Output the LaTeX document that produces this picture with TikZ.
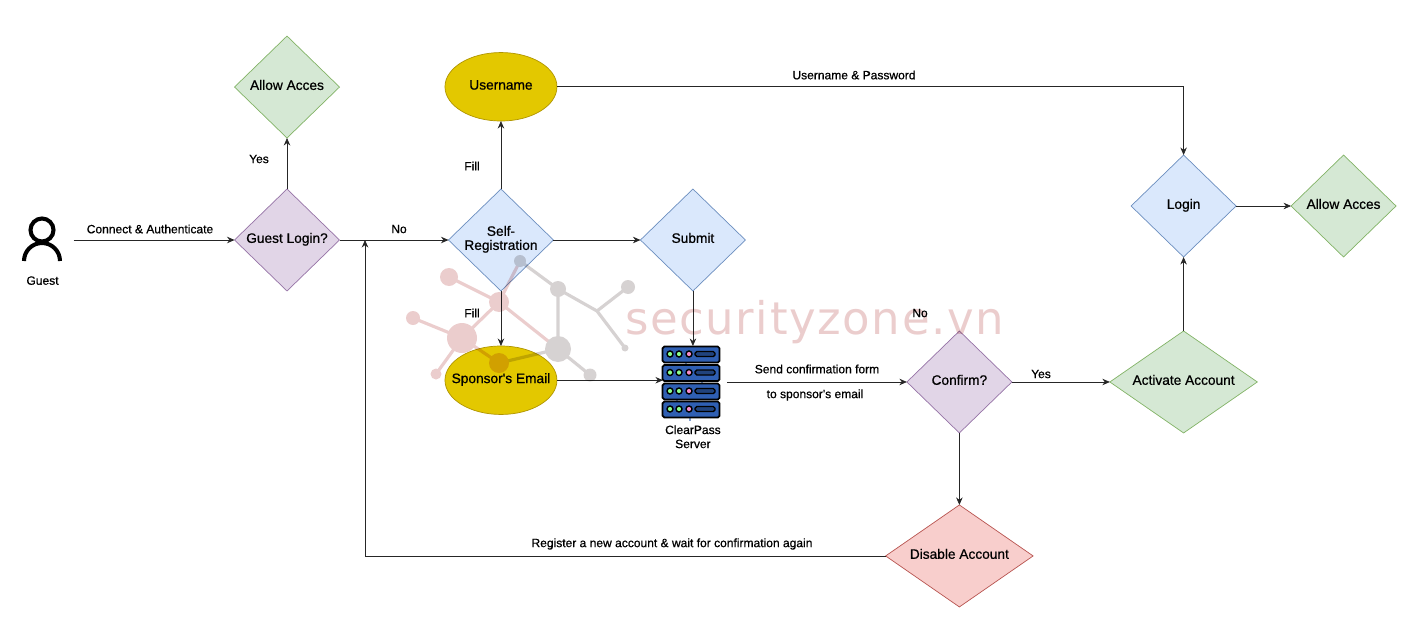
\documentclass[tikz,border=0pt]{standalone}
\usepackage{fontspec}
\setmainfont{Liberation Sans}
\newfontfamily\markfont[LetterSpace=3.6]{DejaVu Sans}
\newfontfamily\boldishfont[FakeBold=0.7]{Liberation Sans}
\usetikzlibrary{arrows.meta,positioning,shapes.geometric}

\definecolor{purplefill}{HTML}{E1D5E7}
\definecolor{purpleline}{HTML}{9673A6}
\definecolor{greenfill}{HTML}{D5E8D4}
\definecolor{greenline}{HTML}{82B366}
\definecolor{bluefill}{HTML}{DAE8FC}
\definecolor{blueline}{HTML}{6C8EBF}
\definecolor{redfill}{HTML}{F8CECC}
\definecolor{redline}{HTML}{B85450}
\definecolor{yellowfill}{HTML}{E3C800}
\definecolor{yellowline}{HTML}{B09500}
\definecolor{markpink}{HTML}{EBCDCD}
\definecolor{markgray}{HTML}{D6D2D2}
\definecolor{rackblue}{HTML}{2F5FB3}

\begin{document}
\begin{tikzpicture}[
  x=0.02cm, y=-0.02cm,
  decision/.style={draw, diamond, align=center, inner sep=0pt, outer sep=0pt, minimum width=2.1cm, minimum height=2.04cm, font=\boldishfont\fontsize{7.8}{8}\selectfont, line width=0.4pt, execute at begin node=\strut},
  wide/.style={minimum width=2.95cm, aspect=1.45},
  oval/.style={draw=yellowline, fill=yellowfill, ellipse, inner ysep=0pt, inner xsep=-0.6cm, outer sep=0pt, minimum width=2.24cm, minimum height=1.37cm, font=\boldishfont\fontsize{7.8}{8}\selectfont, execute at begin node=\strut},
  purpleset/.style={fill=purplefill, draw=purpleline},
  greenset/.style={fill=greenfill, draw=greenline},
  blueset/.style={fill=bluefill, draw=blueline},
  redset/.style={fill=redfill, draw=redline},
  tag/.style={align=center, inner sep=0pt, font=\boldishfont\fontsize{6.85}{8}\selectfont},
  arrow/.style={-{Stealth[length=1.5mm, width=1.3mm]}, line width=0.4pt, draw=black!85}
]
\useasboundingbox (0,0) rectangle (1408,635);

\node[decision, purpleset] (guestlogin) at (287,240) {Guest Login?};
\node[decision, greenset, above=1.02cm of guestlogin] (allowfirst) {Allow Acces};
\node[decision, blueset, right=2.18cm of guestlogin] (selfreg) {Self-\\Registration};
\node[oval, above=1.36cm of selfreg] (username) {Username};
\node[oval, below=1.1cm of selfreg] (sponsor) {Sponsor's Email};
\node[decision, blueset, right=1.74cm of selfreg] (submit) {Submit};
\node[minimum width=1.2cm, minimum height=1.44cm, inner sep=0pt, outer sep=0pt, below=1.1cm of submit] (server) {};
\node[tag, below=0.14cm of server] (serverlabel) {ClearPass\\Server};
\node[decision, purpleset, right=3.68cm of server] (confirm) {Confirm?};
\node[decision, greenset, wide, right=1.96cm of confirm] (activate) {Activate Account};
\node[decision, blueset, above=1.48cm of activate] (login) {Login};
\node[decision, greenset, right=1.1cm of login] (allowsecond) {Allow Acces};
\node[decision, redset, wide, below=1.44cm of confirm] (disable) {Disable Account};
\node[minimum width=1.24cm, minimum height=1.24cm, inner sep=0pt, outer sep=0pt, left=3.22cm of guestlogin] (guest) {};
\node[tag, below=0.1cm of guest] (guestlabel) {Guest};
\coordinate (rejoin) at (365,240);
\coordinate[left=3.6cm of confirm.west] (serverout);

% guest icon
\draw[line width=2.3pt] (42,230) circle (11.5);
\draw[line width=2.3pt] (24,261) arc[start angle=180, end angle=0, radius=0.36cm];

% server icon
\foreach \y/\bx in {355/686, 373.5/702, 392/677, 410/690} {
  \draw[rackblue!60, line width=1.6pt] (\bx,\y+7) -- (\bx,\y+11);
  \draw[fill=rackblue, line width=1pt, rounded corners=1pt] (662.5,\y-8.5) rectangle (719.5,\y+7.5);
  \foreach \x/\c in {670/green!45, 679/green!45, 689/magenta!45} {
    \draw[fill=\c, line width=0.8pt] (\x,\y-1) circle (3);
  }
  \draw[fill=rackblue!70!black, line width=0.8pt, rounded corners=1pt] (695,\y-3.5) rectangle (715,\y+1.5);
}

\draw[arrow] (guest.east |- guestlogin.west) -- (guestlogin.west);
\draw[arrow] (guestlogin) -- (allowfirst);
\draw[arrow] (guestlogin) -- (selfreg);
\draw[arrow] (selfreg) -- (username);
\draw[arrow] (selfreg) -- (sponsor);
\draw[arrow] (selfreg) -- (submit);
\draw[arrow] (username) -| (login);
\draw[arrow] (submit) -- (server);
\draw[arrow] (sponsor.east) -- (server.west |- sponsor.east);
\draw[arrow] (serverout) -- (confirm.west);
\draw[arrow] (confirm) -- (activate);
\draw[arrow] (activate) -- (login);
\draw[arrow] (login) -- (allowsecond);
\draw[arrow] (confirm) -- (disable);
\draw[arrow] (disable.west) -| (rejoin);

\node[tag] (connectlabel) at (150,229) {Connect \& Authenticate};
\node[tag] (nolabel) at (399,229) {No};
\node[tag] (yeslabel) at (259,159) {Yes};
\node[tag] (fillup) at (472,166) {Fill};
\node[tag] (filldown) at (472,313) {Fill};
\node[tag] (passlabel) at (854,75) {Username \& Password};
\node[tag] (sendlabel) at (817,369) {Send confirmation form};
\node[tag] (tolabel) at (815,395) {to sponsor's email};
\node[tag] (confirmno) at (920,313) {No};
\node[tag] (confirmyes) at (1041,374) {Yes};
\node[tag] (registerlabel) at (672,544) {Register a new account \& wait for confirmation again};

% watermark
\begin{scope}[blend mode=multiply]
\begin{scope}[transparency group]
\draw[markpink, line width=1.8pt] (449,277) -- (499,302) -- (558,349) (413,318) -- (462,338) -- (436,374) (462,338) -- (499,302) -- (520,261) (462,338) -- (499,363);
\draw[markgray, line width=1.8pt] (520,261) -- (558,289) -- (597,311) -- (628,287) (597,311) -- (625,348) (558,289) -- (558,349) -- (590,375) (558,349) -- (499,363);
\foreach \x/\y/\r in {449/277/9, 413/318/7, 462/338/15, 436/374/5.5, 499/302/10, 499/363/10} {
  \fill[markpink] (\x,\y) circle (\r);
}
\foreach \x/\y/\r in {520/261/6, 558/289/8, 558/349/13, 590/375/6.5, 628/287/7, 625/348/3.5} {
  \fill[markgray] (\x,\y) circle (\r);
}
\node[text=markpink, inner sep=0pt, font=\markfont\fontsize{25.6}{30}\selectfont] (watermark) at (814.5,322) {securityzone.vn};
\end{scope}
\end{scope}
\end{tikzpicture}
\end{document}
